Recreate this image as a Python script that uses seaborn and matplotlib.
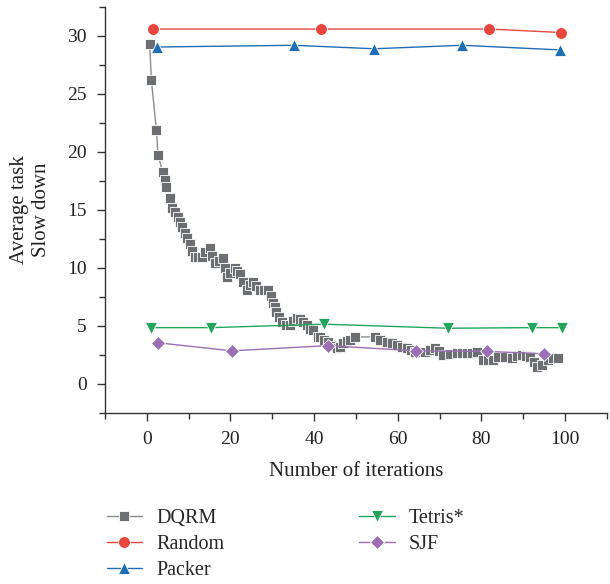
import numpy as np
import pandas as pd
import seaborn as sns
import matplotlib.pyplot as plt
from matplotlib.ticker import MultipleLocator

# data
dqrm_x = [0.7, 1.1, 2.3, 2.7, 3.8, 4.3, 4.7, 5.5, 6.1, 6.7, 7.4, 7.9, 8.5, 9.1, 9.7,
          10.3, 10.9, 11.5, 12.3, 13.1, 14.0, 15.0, 15.7, 16.3, 17.2, 18.2, 18.7, 19.1,
          20.0, 21.0, 21.6, 22.2, 23.0, 23.9, 24.6, 25.4, 26.2, 27.0, 28.0, 29.0, 29.6,
          30.2, 30.6, 31.0, 31.7, 32.3, 33.2, 34.2, 35.0, 35.9, 36.6, 37.3, 38.3, 39.0,
          39.7, 40.9, 41.4, 42.3, 43.3, 44.5, 45.4, 46.2, 46.9, 47.8, 48.6, 49.8, 54.5,
          55.8, 57.4, 58.6, 59.8, 61.0, 62.2, 63.2, 64.1, 65.3, 66.5, 67.7, 68.9, 69.8,
          70.8, 72.5, 74.2, 75.4, 76.6, 77.8, 79.0, 80.4, 81.6, 82.8, 84.0, 85.6, 87.3,
          88.5, 89.7, 90.6, 91.6, 92.5, 93.3, 94.5, 95.9, 97.1, 98.3]
dqrm_y = [29.3, 26.2, 21.9, 19.7, 18.3, 17.6, 17.0, 16.0, 15.2, 14.8, 14.4, 14.0, 13.5,
          13.0, 12.6, 12.1, 11.5, 10.95, 10.95, 10.95, 11.4, 11.7, 11.0, 10.4, 10.6, 10.85,
          10.0, 9.2, 9.6, 10.0, 9.7, 9.5, 8.8, 8.1, 8.5, 8.8, 8.4, 8.1, 8.1, 8.1, 7.6, 7.0,
          6.6, 6.2, 5.8, 5.3, 5.1, 5.1, 5.4, 5.7, 5.6, 5.3, 5.1, 4.7, 4.65, 4.05, 4.05, 3.8,
          3.6, 3.3, 3.1, 3.2, 3.5, 3.7, 3.8, 4.05, 4.05, 3.8, 3.6, 3.5, 3.35, 3.2, 3.1, 2.9,
          2.75, 2.75, 2.75, 2.9, 3.1, 2.8, 2.5, 2.6, 2.67, 2.67, 2.67, 2.7, 2.75, 2.07, 2.07,
          2.07, 2.3, 2.3, 2.24, 2.4, 2.5, 2.4, 2.3, 1.9, 1.47, 1.64, 2.07, 2.2, 2.24]

random_x = [1.4, 41.6, 81.8, 99.0]
random_y = [30.6, 30.6, 30.6, 30.3]

packer_x = [2.4, 35.2, 54.3, 75.4, 98.8]
packer_y = [29.05, 29.2, 28.9, 29.2, 28.8]

tetris_x = [1.0, 15.3, 42.3, 72.0, 92.0, 99.3]
tetris_y = [4.85, 4.85, 5.15, 4.8, 4.85, 4.85]

sjf_x = [2.6, 20.3, 43.3, 64.3, 81.4, 95.0]
sjf_y = [3.55, 2.85, 3.3, 2.85, 2.8, 2.6]

series = [
    ("DQRM", dqrm_x, dqrm_y, "#6d6e71", "#8a8b8d", "s", 7.3),
    ("Random", random_x, random_y, "#e8473e", "#e8473e", "o", 8.5),
    ("Packer", packer_x, packer_y, "#1f6db5", "#1f6db5", "^", 9),
    ("Tetris*", tetris_x, tetris_y, "#22a45d", "#22a45d", "v", 9),
    ("SJF", sjf_x, sjf_y, "#9b6fb5", "#9b6fb5", "D", 7.5),
]

sns.set_style("ticks")
plt.rcParams["font.family"] = ["Liberation Serif", "DejaVu Serif"]
plt.rcParams["font.size"] = 14

fig = plt.figure(figsize=(6.1, 5.84), dpi=100)
ax = fig.add_axes([0.172, 0.293, 0.823, 0.695])

for name, xs, ys, mcol, lcol, mk, ms in series:
    df = pd.DataFrame({"x": xs, "y": ys})
    sns.lineplot(data=df, x="x", y="y", ax=ax, color=lcol, linewidth=1.0,
                 marker=mk, markersize=ms, markerfacecolor=mcol,
                 markeredgecolor="white", markeredgewidth=0.6,
                 label=name, sort=False)

ax.set_xlim(-10, 110)
ax.set_ylim(-2.5, 32.5)
ax.xaxis.set_major_locator(MultipleLocator(20))
ax.xaxis.set_minor_locator(MultipleLocator(10))
ax.yaxis.set_major_locator(MultipleLocator(5))
ax.yaxis.set_minor_locator(MultipleLocator(2.5))
ax.tick_params(which="major", direction="out", length=6, width=1.0, color="#333333",
               labelsize=14, labelcolor="#222222", pad=7)
ax.tick_params(which="minor", direction="out", length=4, width=1.0, color="#333333")
for s in ["top", "right"]:
    ax.spines[s].set_visible(False)
for s in ["left", "bottom"]:
    ax.spines[s].set_color("#333333")
    ax.spines[s].set_linewidth(1.0)

ax.set_xlabel("Number of iterations", fontsize=15, color="#222222", labelpad=10)
ax.set_ylabel("Average task\nSlow down", fontsize=15, color="#222222", labelpad=12)

handles, labels = ax.get_legend_handles_labels()
ax.get_legend().remove()
fig.legend(handles, labels, loc="upper left", bbox_to_anchor=(0.162, 0.143),
           ncol=2, frameon=False, fontsize=14.5, handlelength=1.75,
           handletextpad=0.7, labelspacing=0.35, columnspacing=6.7,
           borderaxespad=0)

fig.savefig("out.png", dpi=100)
